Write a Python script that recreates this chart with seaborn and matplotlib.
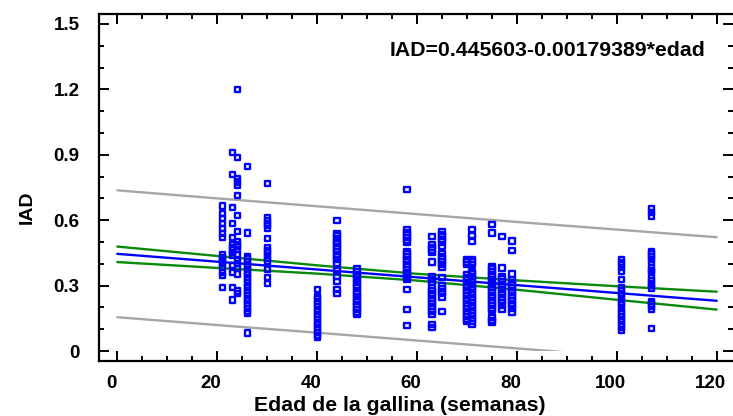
import numpy as np
import pandas as pd
import seaborn as sns
import matplotlib
matplotlib.use("Agg")
import matplotlib.pyplot as plt
from matplotlib.patches import Rectangle
from matplotlib.ticker import MultipleLocator
import matplotlib.transforms as mtransforms

# ---------------- data ----------------
ages = [21, 23, 24, 26, 30, 40, 44, 48, 58, 63, 65, 70, 71, 75, 77, 79, 101, 107]

iad_21 = [0.665, 0.632, 0.609, 0.586, 0.563, 0.540, 0.522, 0.440, 0.430, 0.420,
          0.410, 0.400, 0.385, 0.360, 0.345, 0.290]
iad_23 = [0.911, 0.810, 0.658, 0.585, 0.522, 0.489, 0.476, 0.463, 0.451, 0.440,
          0.394, 0.359, 0.290, 0.234]
iad_24 = [1.198, 0.886, 0.790, 0.775, 0.760, 0.713, 0.621, 0.549, 0.502, 0.490,
          0.478, 0.465, 0.440, 0.420, 0.403, 0.380, 0.353, 0.275, 0.262]
iad_26 = [0.848, 0.541, 0.434, 0.422, 0.410, 0.398, 0.386, 0.374, 0.362, 0.350,
          0.338, 0.326, 0.314, 0.302, 0.290, 0.278, 0.266, 0.254, 0.242, 0.230,
          0.218, 0.206, 0.194, 0.182, 0.172, 0.083]
iad_30 = [0.768, 0.610, 0.598, 0.586, 0.574, 0.562, 0.515, 0.474, 0.462, 0.450,
          0.438, 0.426, 0.413, 0.373, 0.336, 0.308]
iad_40 = [0.282, 0.251, 0.240, 0.228, 0.216, 0.204, 0.192, 0.180, 0.168, 0.156,
          0.144, 0.132, 0.120, 0.108, 0.096, 0.084, 0.072, 0.062]
iad_44 = [0.597, 0.540, 0.528, 0.516, 0.504, 0.492, 0.480, 0.468, 0.456, 0.444,
          0.432, 0.420, 0.404, 0.370, 0.343, 0.318, 0.283, 0.264]
iad_48 = [0.376, 0.364, 0.352, 0.340, 0.328, 0.316, 0.302, 0.290, 0.274, 0.262,
          0.250, 0.238, 0.226, 0.214, 0.202, 0.190, 0.178, 0.168]
iad_58 = [0.739, 0.556, 0.544, 0.532, 0.520, 0.508, 0.496, 0.457, 0.445, 0.433,
          0.421, 0.409, 0.397, 0.385, 0.373, 0.361, 0.349, 0.337, 0.327, 0.282,
          0.190, 0.118]
iad_63 = [0.525, 0.487, 0.475, 0.463, 0.450, 0.408, 0.342, 0.328, 0.314, 0.289,
          0.277, 0.265, 0.253, 0.241, 0.229, 0.217, 0.205, 0.193, 0.181, 0.168,
          0.120, 0.108]
iad_65 = [0.548, 0.536, 0.524, 0.512, 0.500, 0.480, 0.446, 0.434, 0.422, 0.410,
          0.398, 0.384, 0.336, 0.298, 0.286, 0.274, 0.262, 0.248, 0.182]
iad_70 = [0.420, 0.408, 0.397, 0.350, 0.338, 0.326, 0.314, 0.302, 0.290, 0.278,
          0.266, 0.254, 0.242, 0.230, 0.218, 0.206, 0.194, 0.182, 0.170, 0.158,
          0.146, 0.134]
iad_71 = [0.556, 0.530, 0.503, 0.420, 0.408, 0.397, 0.366, 0.354, 0.342, 0.330,
          0.318, 0.306, 0.294, 0.282, 0.270, 0.258, 0.246, 0.234, 0.222, 0.210,
          0.198, 0.186, 0.174, 0.162, 0.150, 0.138, 0.124]
iad_75 = [0.579, 0.541, 0.388, 0.376, 0.364, 0.352, 0.340, 0.328, 0.316, 0.304,
          0.292, 0.280, 0.268, 0.256, 0.244, 0.232, 0.220, 0.208, 0.196, 0.184,
          0.153, 0.141, 0.130]
iad_77 = [0.525, 0.381, 0.342, 0.330, 0.318, 0.306, 0.294, 0.282, 0.270, 0.258,
          0.246, 0.234, 0.222, 0.210, 0.192]
iad_79 = [0.505, 0.461, 0.353, 0.327, 0.315, 0.303, 0.291, 0.279, 0.267, 0.255,
          0.243, 0.231, 0.219, 0.207, 0.195, 0.177]
iad_101 = [0.419, 0.407, 0.395, 0.383, 0.366, 0.327, 0.289, 0.277, 0.265, 0.253,
           0.236, 0.224, 0.212, 0.200, 0.182, 0.170, 0.158, 0.146, 0.134, 0.122,
           0.110, 0.093]
iad_107 = [0.655, 0.637, 0.619, 0.457, 0.445, 0.432, 0.419, 0.405, 0.381, 0.370,
           0.359, 0.335, 0.323, 0.311, 0.299, 0.289, 0.228, 0.216, 0.204, 0.192,
           0.103]

iad_by_age = [iad_21, iad_23, iad_24, iad_26, iad_30, iad_40, iad_44, iad_48,
              iad_58, iad_63, iad_65, iad_70, iad_71, iad_75, iad_77, iad_79,
              iad_101, iad_107]

# fitted model (as printed on the chart)
intercept = 0.445603
slope = -0.00179389
fit_x = [0, 120]
equation_text = "IAD=0.445603-0.00179389*edad"

# confidence (green) and prediction (gray) limits
band_x = [0, 20, 40, 60, 80, 100, 120]
ci_upper = [0.479, 0.436, 0.393, 0.354, 0.324, 0.297, 0.272]
ci_lower = [0.408, 0.381, 0.355, 0.323, 0.281, 0.235, 0.190]
pi_upper = [0.737, 0.700, 0.664, 0.628, 0.592, 0.557, 0.522]
pi_lower = [0.155, 0.119, 0.084, 0.048, 0.012, -0.025, -0.062]

x_ticks = [0, 20, 40, 60, 80, 100, 120]
x_ticklabels = ["0", "20", "40", "60", "80", "100", "120"]
y_ticks = [0, 0.3, 0.6, 0.9, 1.2, 1.5]
y_ticklabels = ["0", "0.3", "0.6", "0.9", "1.2", "1.5"]

# ---------------- table ----------------
rows = []
for a, vals in zip(ages, iad_by_age):
    for v in vals:
        rows.append((a, v))
df = pd.DataFrame(rows, columns=["edad", "IAD"])
fit_df = pd.DataFrame({"edad": fit_x,
                       "IAD": [intercept + slope * x for x in fit_x]})
band_df = pd.DataFrame({"edad": band_x, "ci_up": ci_upper, "ci_lo": ci_lower,
                        "pi_up": pi_upper, "pi_lo": pi_lower})

# ---------------- plot ----------------
sns.set_theme(style="white")
plt.rcParams["font.family"] = ["Liberation Sans", "DejaVu Sans"]
plt.rcParams["font.weight"] = "bold"
for k in ["text.color", "axes.labelcolor", "xtick.color", "ytick.color",
          "axes.edgecolor"]:
    plt.rcParams[k] = "black"

W, H, DPI = 733, 416, 100
fig = plt.figure(figsize=(W / DPI, H / DPI), dpi=DPI)
left, right, top, bottom = 99, 733, 14, 361
ax = fig.add_axes([left / W, 1 - bottom / H, (right - left) / W, (bottom - top) / H])

gray = "#a6a6a6"
green = "#0a8a0a"
blue = "#0000ff"

sns.lineplot(data=band_df, x="edad", y="pi_up", ax=ax, color=gray, lw=1.7)
sns.lineplot(data=band_df, x="edad", y="pi_lo", ax=ax, color=gray, lw=1.7)
clip_rect = Rectangle((-10, 0), 200, 5, transform=ax.transData)
ax.lines[-1].set_clip_path(clip_rect)
sns.lineplot(data=band_df, x="edad", y="ci_up", ax=ax, color=green, lw=1.7)
sns.lineplot(data=band_df, x="edad", y="ci_lo", ax=ax, color=green, lw=1.7)
sns.lineplot(data=fit_df, x="edad", y="IAD", ax=ax, color=blue, lw=1.7)

sns.scatterplot(data=df, x="edad", y="IAD", ax=ax, marker="s", s=14,
                facecolor="none", edgecolor=blue, linewidth=1.7, zorder=3)

# axes scaling: 0 -> px 117.3, 120 -> px 716.7 ; y 0 -> px 351, 1.5 -> px 24
xpx = (716.7 - 117.3) / 120
ax.set_xlim((left - 117.3) / xpx, (right - 117.3) / xpx)
ypx = (351 - 24) / 1.5
ax.set_ylim((351 - bottom) / ypx, (351 - top) / ypx)

ax.set_xticks(x_ticks)
ax.set_xticklabels(x_ticklabels)
ax.set_yticks(y_ticks)
ax.set_yticklabels(y_ticklabels)
ax.xaxis.set_minor_locator(MultipleLocator(5))
ax.yaxis.set_minor_locator(MultipleLocator(0.1))

for s in ["left", "top", "bottom"]:
    ax.spines[s].set_visible(True)
    ax.spines[s].set_linewidth(1.6)
    ax.spines[s].set_color("black")
ax.spines["right"].set_visible(False)

ax.tick_params(which="both", direction="in", top=True, right=True,
               bottom=True, left=True, color="black", width=1.4)
ax.tick_params(which="major", length=7.5)
ax.tick_params(which="minor", length=3.8)
ax.tick_params(axis="x", which="major", labelsize=13.5, pad=10, labelcolor="black")
ax.tick_params(axis="y", which="major", labelsize=13.5, pad=14, labelcolor="black")

for lab in ax.get_xticklabels():
    lab.set_fontweight("bold")
    lab.set_transform(lab.get_transform() +
                      mtransforms.ScaledTranslation(-6 / DPI, 0, fig.dpi_scale_trans))
for lab in ax.get_yticklabels():
    lab.set_fontweight("bold")

ax.set_xlabel("Edad de la gallina (semanas)", fontsize=15.3, fontweight="bold",
              color="black")
ax.xaxis.set_label_coords((400 - left) / (right - left), (bottom - 396) / (bottom - top))
ax.set_ylabel("IAD", fontsize=14, fontweight="bold", color="black")
ax.yaxis.set_label_coords((36 - left) / (right - left), (bottom - 207) / (bottom - top))

fig.text(390 / W, 1 - 50 / H, equation_text,
         fontsize=15.3, fontweight="bold", ha="left", va="center", color="black")

fig.savefig("out.png", dpi=DPI)
